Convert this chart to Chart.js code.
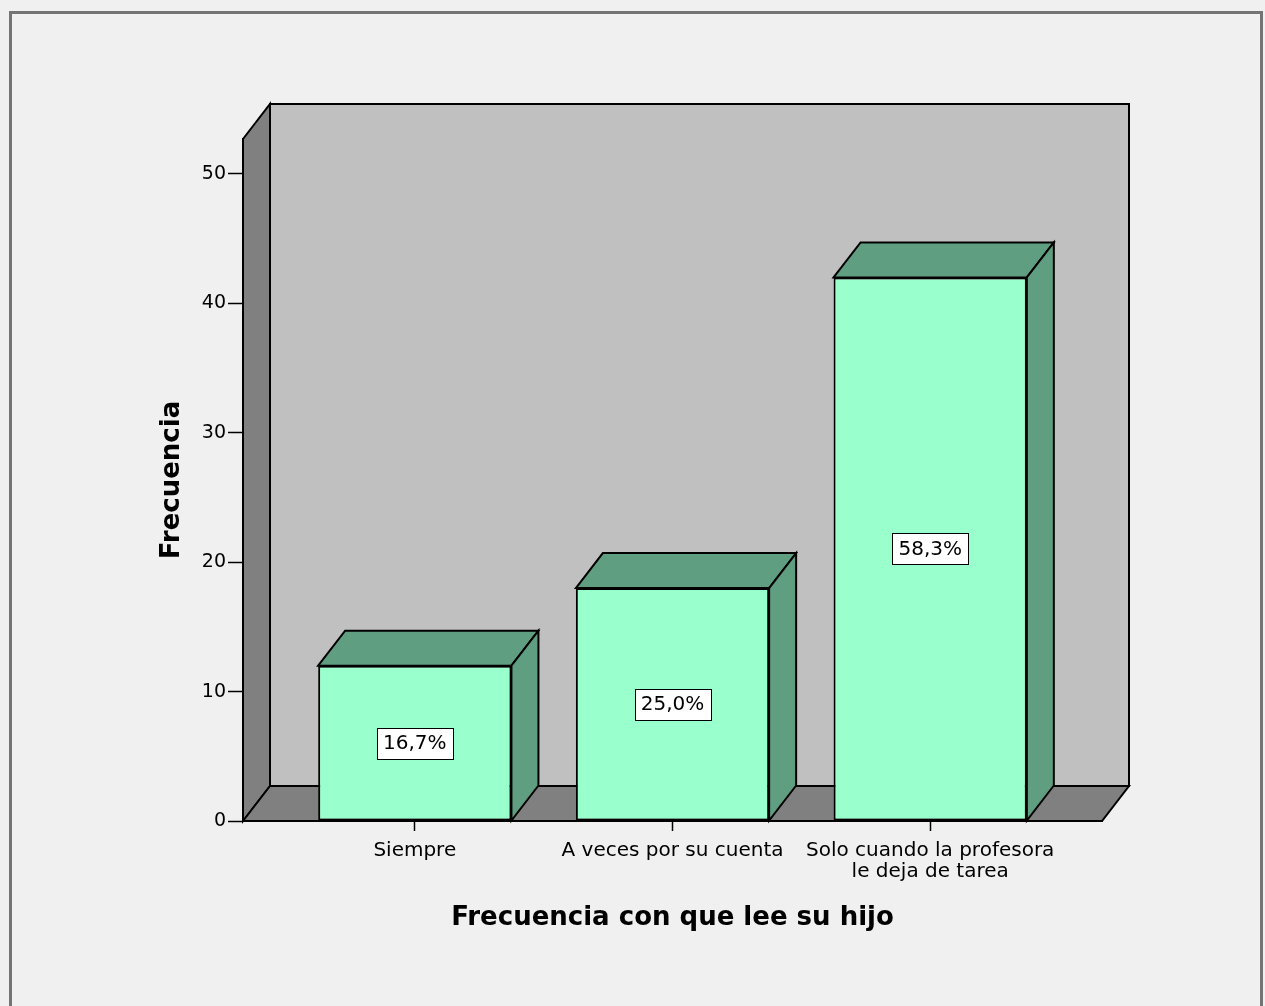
<!DOCTYPE html>
<html>
<head>
<meta charset="utf-8">
<script src="https://cdn.jsdelivr.net/npm/chart.js@4.4.1/dist/chart.umd.min.js"></script>
<style>
html, body { margin: 0; padding: 0; background: #f0f0f0; }
#marco { position: absolute; left: 9px; top: 11px; width: 1254px; height: 1010px; border: 3px solid #747474; box-sizing: border-box; }
#lienzo { position: absolute; left: 0; top: 0; }
</style>
</head>
<body>
<div id="marco"></div>
<canvas id="lienzo" width="1265" height="1006"></canvas>
<script>
// Datos
const categorias = [['Siempre'], ['A veces por su cuenta'], ['Solo cuando la profesora', 'le deja de tarea']];
const posiciones = [1, 2, 3];
const frecuencias = [12, 18, 42];
const porcentajes = ['16,7%', '25,0%', '58,3%'];
const ticksY = [0, 10, 20, 30, 40, 50];

// Profundidad del efecto 3D (px)
const PROF_X = 27;
const PROF_Y = 35;

function poligono(ctx, pts, relleno) {
    ctx.beginPath();
    ctx.moveTo(pts[0][0], pts[0][1]);
    for (let i = 1; i < pts.length; i++) ctx.lineTo(pts[i][0], pts[i][1]);
    ctx.closePath();
    ctx.fillStyle = relleno;
    ctx.fill();
    ctx.stroke();
}

// Paredes, suelo y caras laterales de las barras
const cubo3d = {
    id: 'cubo3d',
    beforeDraw(chart) {
        const { ctx, chartArea: a } = chart;
        ctx.save();
        ctx.strokeStyle = '#000';
        ctx.lineWidth = 2;
        poligono(ctx, [[a.left + PROF_X, a.top - PROF_Y], [a.right + PROF_X, a.top - PROF_Y],
            [a.right + PROF_X, a.bottom - PROF_Y], [a.left + PROF_X, a.bottom - PROF_Y]], '#c0c0c0');
        poligono(ctx, [[a.left, a.top], [a.left + PROF_X, a.top - PROF_Y],
            [a.left + PROF_X, a.bottom - PROF_Y], [a.left, a.bottom]], '#808080');
        poligono(ctx, [[a.left, a.bottom], [a.left + PROF_X, a.bottom - PROF_Y],
            [a.right + PROF_X, a.bottom - PROF_Y], [a.right, a.bottom]], '#808080');
        ctx.restore();
    },
    afterDatasetsDraw(chart) {
        const ctx = chart.ctx;
        const meta = chart.getDatasetMeta(0);
        ctx.save();
        ctx.strokeStyle = '#000';
        meta.data.forEach((bar, i) => {
            const { x, y, base, width } = bar.getProps(['x', 'y', 'base', 'width'], true);
            const l = x - width / 2, r = x + width / 2;
            ctx.lineWidth = 2;
            poligono(ctx, [[l, y], [l + PROF_X, y - PROF_Y], [r + PROF_X, y - PROF_Y], [r, y]], '#5f9e80');
            poligono(ctx, [[r, y], [r + PROF_X, y - PROF_Y], [r + PROF_X, base - PROF_Y], [r, base]], '#5f9e80');

            // etiqueta de porcentaje
            ctx.font = '20px "DejaVu Sans"';
            const tw = ctx.measureText(porcentajes[i]).width;
            const cy = (y + base) / 2;
            const bw = Math.round(tw + 12), bh = 31;
            const bx = Math.round(x - bw / 2), by = Math.round(cy - bh / 2);
            ctx.fillStyle = '#fff';
            ctx.fillRect(bx, by, bw, bh);
            ctx.lineWidth = 1;
            ctx.strokeRect(bx + 0.5, by + 0.5, bw, bh);
            ctx.fillStyle = '#000';
            ctx.textAlign = 'center';
            ctx.textBaseline = 'middle';
            ctx.fillText(porcentajes[i], x, cy + 1);
        });
        ctx.restore();
    }
};

new Chart(document.getElementById('lienzo'), {
    type: 'bar',
    data: {
        datasets: [{
            data: posiciones.map((p, i) => ({ x: p, y: frecuencias[i] })),
            backgroundColor: '#99ffcc',
            borderColor: '#000',
            borderWidth: 2,
            borderSkipped: false,
            barPercentage: 0.75,
            categoryPercentage: 1
        }]
    },
    options: {
        responsive: false,
        animation: false,
        devicePixelRatio: 1,
        layout: { padding: { left: 157, right: 163, top: 139, bottom: 70 } },
        plugins: {
            legend: { display: false },
            tooltip: { enabled: false }
        },
        scales: {
            x: {
                type: 'linear',
                offset: false,
                min: 1 / 3,
                max: 11 / 3,
                afterBuildTicks: s => { s.ticks = posiciones.map(v => ({ value: v })); },
                afterFit: s => { s.height = 115; },
                grid: { offset: false, drawOnChartArea: false, drawTicks: true, tickLength: 10, tickColor: '#000', tickWidth: 1.5 },
                border: { display: true, color: '#000', width: 2 },
                ticks: {
                    autoSkip: false,
                    maxRotation: 0,
                    color: '#000',
                    padding: 9,
                    font: { family: 'DejaVu Sans', size: 20, lineHeight: 1.05 },
                    callback: v => categorias[posiciones.indexOf(v)]
                },
                title: {
                    display: true,
                    text: 'Frecuencia con que lee su hijo',
                    color: '#000',
                    font: { family: 'DejaVu Sans', size: 26, weight: 'bold' },
                    padding: { top: 0, bottom: 2 }
                }
            },
            y: {
                min: 0,
                max: 52.7,
                afterBuildTicks: s => { s.ticks = ticksY.map(v => ({ value: v })); },
                afterFit: s => { s.width = 86; },
                grid: { drawOnChartArea: false, drawTicks: true, tickLength: 15, tickColor: '#000', tickWidth: 1.5 },
                border: { display: true, color: '#000', width: 2 },
                ticks: { color: '#000', padding: 2, font: { family: 'DejaVu Sans', size: 19 } },
                title: {
                    display: true,
                    text: 'Frecuencia',
                    color: '#000',
                    font: { family: 'DejaVu Sans', size: 26, weight: 'bold' },
                    padding: { top: 0, bottom: 0 }
                }
            }
        }
    },
    plugins: [cubo3d]
});
</script>
</body>
</html>
